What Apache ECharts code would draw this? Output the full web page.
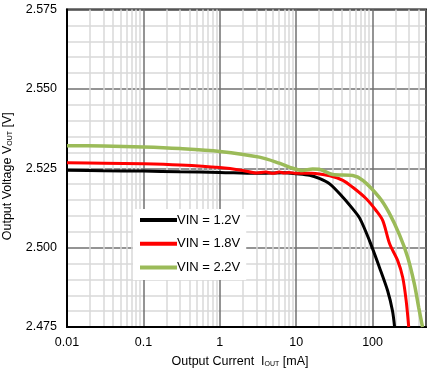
<!DOCTYPE html>
<html><head><meta charset="utf-8">
<script src="https://cdn.jsdelivr.net/npm/echarts@6/dist/echarts.min.js"></script>
<style>html,body{margin:0;padding:0;background:#fff}#c{width:441px;height:385px}</style>
</head><body><div id="c"></div>
<script>
// Tick labels
var xTicks = [0.01, 0.1, 1, 10, 100];
var yTicks = [2.475, 2.500, 2.525, 2.550, 2.575];
var xMinor = [0.02,0.03,0.04,0.05,0.06,0.07,0.08,0.09,0.2,0.3,0.4,0.5,0.6,0.7,0.8,0.9,2,3,4,5,6,7,8,9,20,30,40,50,60,70,80,90,200,300,400];
var seriesNames = ['VIN = 1.2V', 'VIN = 1.8V', 'VIN = 2.2V'];

// VIN = 1.2V
var iout12 = [0.01, 0.03, 0.1, 0.3, 1, 3, 7, 10, 15, 20, 27.4, 40.8, 55, 68, 91, 122, 157, 182, 194];
var vout12 = [2.5244, 2.5242, 2.5241, 2.5239, 2.5237, 2.5234, 2.5236, 2.5233, 2.5228, 2.5218, 2.5201, 2.5159, 2.5122, 2.5092, 2.5022, 2.4940, 2.4865, 2.4801, 2.4750];
// VIN = 1.8V
var iout18 = [0.01, 0.03, 0.1, 0.3, 1, 2, 3, 4, 5, 6, 7, 8, 10, 16, 27.4, 40.8, 55, 82.5, 111, 136, 167, 213, 248, 275, 297];
var vout18 = [2.5267, 2.5266, 2.5264, 2.5260, 2.5252, 2.5243, 2.5235, 2.5238, 2.5234, 2.5238, 2.5235, 2.5237, 2.5234, 2.5234, 2.5226, 2.5212, 2.5190, 2.5154, 2.5117, 2.5085, 2.5012, 2.4959, 2.4906, 2.4833, 2.4750];
// VIN = 2.2V
var iout22 = [0.01, 0.03, 0.1, 0.3, 1, 3.3, 6, 9, 12, 16.4, 20, 30, 55, 74.5, 121.6, 164, 225, 288, 352, 401, 450];
var vout22 = [2.5321, 2.5320, 2.5317, 2.5312, 2.5303, 2.5285, 2.5266, 2.5250, 2.5243, 2.5248, 2.5247, 2.5230, 2.5227, 2.5212, 2.5159, 2.5110, 2.5040, 2.4970, 2.4886, 2.4812, 2.4750];

function pairs(xs, ys){ return xs.map(function(x,i){ return [x, ys[i]]; }); }

var font = 'Liberation Sans, Arial, sans-serif';
var chart = echarts.init(document.getElementById('c'));
chart.setOption({
  animation: false,
  backgroundColor: '#fff',
  grid: { left: 67, right: 15, top: 9.5, bottom: 58, containLabel: false, outerBoundsMode: 'none',
    show: true, borderColor: '#000', borderWidth: 2, backgroundColor: 'transparent' },
  legend: {
    orient: 'vertical', left: 133, top: 209, z: 10,
    data: seriesNames,
    icon: 'rect', itemWidth: 37, itemHeight: 4, itemGap: 10.7,
    backgroundColor: '#ffffff', padding: [4.5, 6, 6, 7],
    textStyle: { fontFamily: font, fontSize: 13, color: '#000', padding: [0, 0, 0, -5] }
  },
  xAxis: {
    type: 'log', logBase: 10, min: 0.01, max: 500,
    name: '{a|Output Current  I}{s|OUT}{a| [mA]}',
    nameLocation: 'middle', nameGap: 28,
    nameTextStyle: { padding: [0, 13, 0, 0], rich: { a: { fontFamily: font, fontSize: 12.5, color: '#000' }, s: { fontFamily: font, fontSize: 7, color: '#000', verticalAlign: 'bottom', padding: [4,0,0,0] } } },
    axisLine: { show: true, lineStyle: { color: '#000', width: 2 } },
    axisTick: { show: false },
    axisLabel: { fontFamily: font, fontSize: 12.5, color: '#000', margin: 9, showMaxLabel: false,
      formatter: function(v){ for (var i=0;i<xTicks.length;i++){ if (Math.abs(v-xTicks[i])/xTicks[i] < 1e-6) return String(xTicks[i]); } return ''; } },
    splitLine: { show: true, lineStyle: { color: '#707070', width: 1.5 } }
  },
  yAxis: {
    type: 'value', min: yTicks[0], max: yTicks[yTicks.length-1], interval: 0.025,
    name: '{a|Output Voltage V}{s|OUT}{a| [V]}',
    nameLocation: 'middle', nameGap: 53,
    nameTextStyle: { padding: [0, 0, 0, -16], rich: { a: { fontFamily: font, fontSize: 12.5, color: '#000' }, s: { fontFamily: font, fontSize: 7, color: '#000', verticalAlign: 'bottom', padding: [4,0,0,0] } } },
    axisLine: { show: true, lineStyle: { color: '#000', width: 2 } },
    axisTick: { show: false },
    axisLabel: { fontFamily: font, fontSize: 12.5, color: '#000', margin: 10, formatter: function(v){ return v.toFixed(3); } },
    splitLine: { show: true, lineStyle: { color: '#707070', width: 1.5 } },
    minorTick: { show: false, splitNumber: 5 },
    minorSplitLine: { show: true, lineStyle: { color: '#d9d9d9', width: 1.5 } }
  },
  series: [
    { type: 'line', name: 'grid', data: [], silent: true, z: 0,
      markLine: { silent: true, z: 0, symbol: ['none','none'], label: { show: false },
        lineStyle: { color: '#d9d9d9', width: 1.5, type: 'solid' },
        data: xMinor.map(function(v){ return { xAxis: v }; }) } },
    { type: 'line', name: seriesNames[0], data: pairs(iout12, vout12), showSymbol: false, smooth: 0.3, z: 3,
      lineStyle: { color: '#000000', width: 3 }, itemStyle: { color: '#000000' } },
    { type: 'line', name: seriesNames[1], data: pairs(iout18, vout18), showSymbol: false, smooth: 0.3, z: 4,
      lineStyle: { color: '#ff0000', width: 3 }, itemStyle: { color: '#ff0000' } },
    { type: 'line', name: seriesNames[2], data: pairs(iout22, vout22), showSymbol: false, smooth: 0.3, z: 5,
      lineStyle: { color: '#9bbb59', width: 3.5 }, itemStyle: { color: '#9bbb59' } }
  ]
});
</script></body></html>
